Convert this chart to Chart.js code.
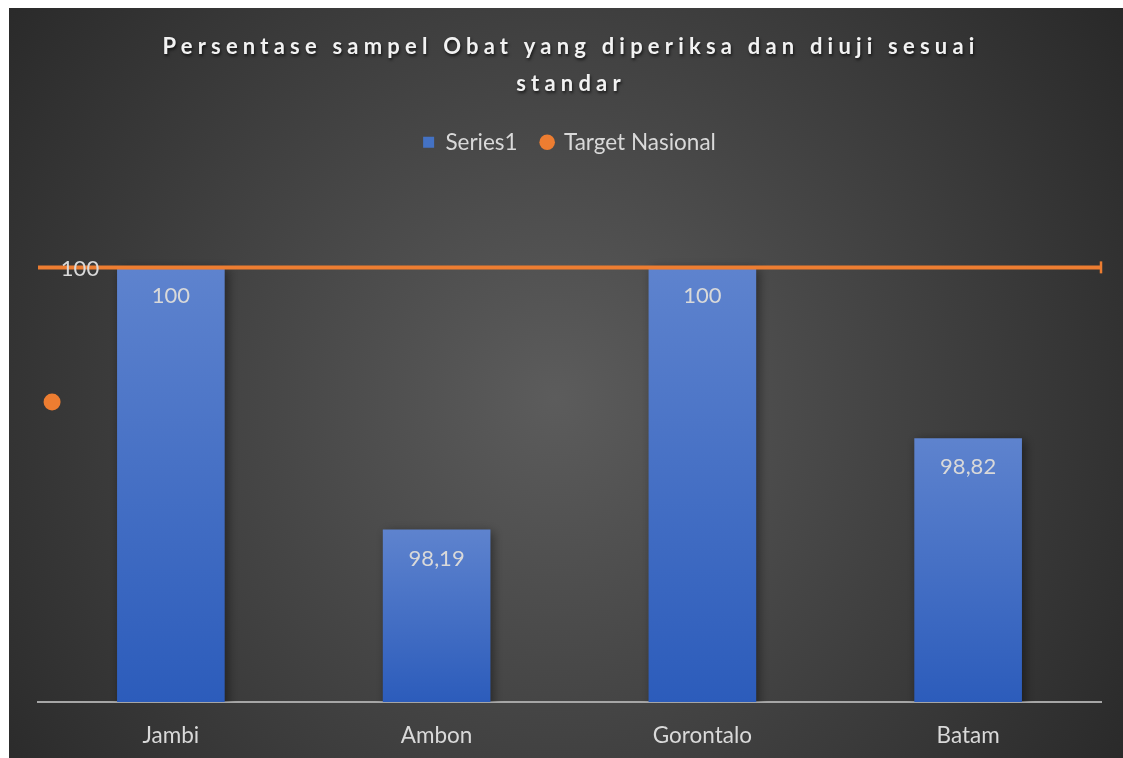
<!DOCTYPE html>
<html>
<head>
<meta charset="utf-8">
<script src="https://cdn.jsdelivr.net/npm/chart.js@4.4.1/dist/chart.umd.min.js"></script>
<style>
  html, body { margin: 0; padding: 0; background: #ffffff; overflow: hidden; }
  #wrap { position: absolute; left: 9px; top: 8px; width: 1114px; height: 750px; }
</style>
</head>
<body>
<div id="wrap"><canvas id="c" width="1114" height="750"></canvas></div>
<script>
// ---- data ----
const titleLines = ['Persentase sampel Obat yang diperiksa dan diuji sesuai', 'standar'];
const categories = ['Jambi', 'Ambon', 'Gorontalo', 'Batam'];
const series1 = [100, 98.19, 100, 98.82];
const seriesNames = ['Series1', 'Target Nasional'];
const targetValue = [100, 100];      // national target, drawn across the full width
const targetSpan = [0, 4];           // x positions on the helper axis (category edges)
const targetMarkX = [0.053];         // lone marker of the target series
const targetMarkY = [99.07];

const FONT = 'Lato, "Open Sans", sans-serif';
const LABEL_COLOR = '#d9d9d9';
const ORANGE = '#ed7d31';

const fmt = v => String(v).replace('.', ',');

// dark radial background of the panel
const panelBg = {
  id: 'panelBg',
  beforeDraw(chart) {
    const { ctx, width, height } = chart;
    const g = ctx.createRadialGradient(width * 0.49, height * 0.52, 0, width * 0.49, height * 0.52, 700);
    g.addColorStop(0, '#5c5c5c');
    g.addColorStop(1, '#282828');
    ctx.save();
    ctx.fillStyle = g;
    ctx.fillRect(0, 0, width, height);
    ctx.restore();
  }
};

// spaced, shadowed chart title
const spacedTitle = {
  id: 'spacedTitle',
  afterDraw(chart) {
    const { ctx, width } = chart;
    ctx.save();
    ctx.font = 'bold 22px ' + FONT;
    ctx.letterSpacing = '5.2px';
    ctx.textAlign = 'center';
    ctx.textBaseline = 'middle';
    ctx.fillStyle = '#f2f2f2';
    ctx.shadowColor = 'rgba(0,0,0,0.65)';
    ctx.shadowBlur = 3;
    ctx.shadowOffsetX = 1;
    ctx.shadowOffsetY = 1.5;
    titleLines.forEach((line, i) => ctx.fillText(line, width / 2 + 5, 39 + i * 37));
    ctx.restore();
  }
};

// soft shadow behind the bars
const barShadow = {
  id: 'barShadow',
  beforeDatasetDraw(chart, args) {
    if (args.index !== 0) return;
    const ctx = chart.ctx;
    ctx.save();
    ctx.shadowColor = 'rgba(0,0,0,0.45)';
    ctx.shadowBlur = 10;
    ctx.shadowOffsetX = 3;
    ctx.shadowOffsetY = 2;
  },
  afterDatasetDraw(chart, args) {
    if (args.index !== 0) return;
    chart.ctx.restore();
  }
};

// value labels: inside the top of each bar, and next to the start of the target line
const valueLabels = {
  id: 'valueLabels',
  afterDatasetsDraw(chart) {
    const ctx = chart.ctx;
    ctx.save();
    ctx.font = '22px ' + FONT;
    ctx.fillStyle = LABEL_COLOR;
    ctx.textAlign = 'center';
    ctx.textBaseline = 'middle';
    const bars = chart.getDatasetMeta(0).data;
    bars.forEach((el, i) => ctx.fillText(fmt(series1[i]), el.x, el.y + 29));
    const linePts = chart.getDatasetMeta(1).data;
    if (linePts.length) ctx.fillText(fmt(targetValue[0]), linePts[0].x + 42, linePts[0].y + 2);
    ctx.restore();
  }
};

const barFill = (c) => {
  const chart = c.chart;
  const y = chart.scales && chart.scales.y;
  if (!y || c.type !== 'data' || !isFinite(y.top)) return '#4472c4';
  const top = y.getPixelForValue(c.raw);
  const bot = y.getPixelForValue(y.min);
  const g = chart.ctx.createLinearGradient(0, top, 0, bot);
  g.addColorStop(0, '#5e83ce');
  g.addColorStop(1, '#2c5cbb');
  return g;
};

new Chart(document.getElementById('c'), {
  type: 'bar',
  data: {
    labels: categories,
    datasets: [
      {
        label: seriesNames[0],
        data: series1,
        backgroundColor: barFill,
        borderWidth: 0,
        grouped: false,
        categoryPercentage: 1,
        barPercentage: 0.405,
        xAxisID: 'x',
        yAxisID: 'y',
        order: 2
      },
      {
        type: 'line',
        label: seriesNames[1],
        data: targetSpan.map((x, i) => ({ x, y: targetValue[i] })),
        xAxisID: 'x2',
        yAxisID: 'y',
        clip: false,
        borderColor: ORANGE,
        borderWidth: 4,
        pointStyle: 'line',
        rotation: 90,
        pointRadius: [0, 6],
        pointBorderWidth: 2.5,
        pointBorderColor: ORANGE,
        order: 1
      },
      {
        type: 'line',
        label: seriesNames[1] + ' ',
        data: targetMarkX.map((x, i) => ({ x, y: targetMarkY[i] })),
        xAxisID: 'x2',
        yAxisID: 'y',
        clip: false,
        showLine: false,
        pointStyle: 'circle',
        pointRadius: 8.5,
        pointBackgroundColor: ORANGE,
        pointBorderColor: ORANGE,
        pointBorderWidth: 0,
        order: 0
      }
    ]
  },
  options: {
    responsive: false,
    animation: false,
    devicePixelRatio: 1,
    layout: { padding: { top: 99, left: 29, right: 22, bottom: -11 } },
    plugins: {
      title: { display: false },
      tooltip: { enabled: false },
      legend: {
        display: true,
        position: 'top',
        labels: {
          usePointStyle: true,
          boxWidth: 11,
          boxHeight: 11,
          padding: 24,
          color: LABEL_COLOR,
          font: { family: FONT, size: 22.5 },
          generateLabels: () => [
            { text: seriesNames[0], fillStyle: '#4472c4', strokeStyle: '#4472c4', lineWidth: 0, pointStyle: 'rect', fontColor: LABEL_COLOR, datasetIndex: 0 },
            { text: seriesNames[1], fillStyle: ORANGE, strokeStyle: ORANGE, lineWidth: 0, pointStyle: 'circle', fontColor: LABEL_COLOR, datasetIndex: 1 }
          ]
        }
      }
    },
    scales: {
      x: {
        type: 'category',
        offset: true,
        grid: { display: false, drawTicks: false },
        border: { display: true, color: '#a6a6a6', width: 2 },
        ticks: { color: LABEL_COLOR, font: { family: FONT, size: 22.5 }, padding: 20 }
      },
      x2: {
        type: 'linear',
        display: false,
        offset: false,
        grid: { offset: false },
        min: 0,
        max: 4
      },
      y: {
        type: 'linear',
        display: false,
        min: 97,
        max: 100.717
      }
    }
  },
  plugins: [panelBg, barShadow, valueLabels, spacedTitle]
});
</script>
</body>
</html>
